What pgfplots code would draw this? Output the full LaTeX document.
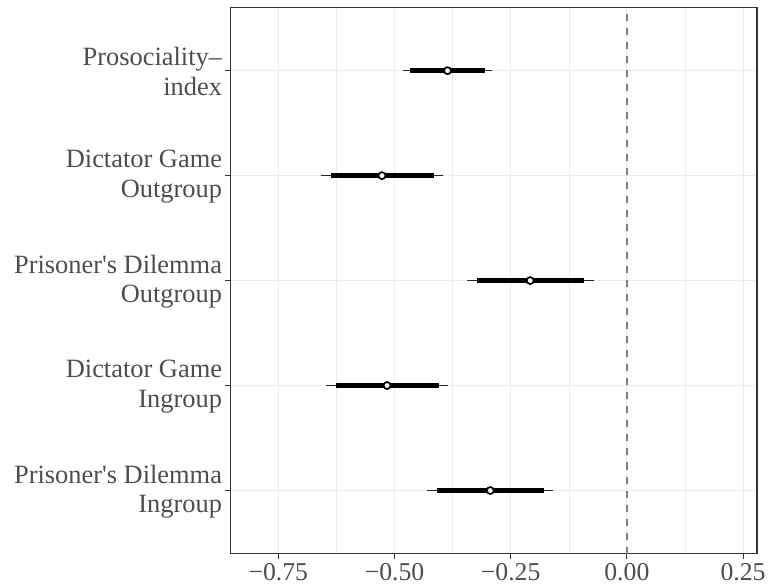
\documentclass[border=0pt]{standalone}
\usepackage{fontspec}
\setmainfont{Liberation Serif}
\usepackage{pgfplots}
\usepackage{pgfplotstable}
\pgfplotsset{compat=1.18}
\definecolor{gridmaj}{RGB}{235,235,235}
\definecolor{frame}{RGB}{51,51,51}
\definecolor{txt}{RGB}{77,77,77}
\definecolor{vline}{RGB}{127,127,127}
% y est lo95 hi95 lo66 hi66
\pgfplotstableread{
y est lo95 hi95 lo66 hi66
1 -0.294 -0.430 -0.158 -0.409 -0.179
2 -0.516 -0.648 -0.384 -0.626 -0.405
3 -0.208 -0.344 -0.070 -0.323 -0.093
4 -0.527 -0.658 -0.395 -0.637 -0.416
5 -0.386 -0.482 -0.290 -0.466 -0.305
}\estimates
\begin{document}
\begin{tikzpicture}
\begin{axis}[
  scale only axis,
  width=526.5bp, height=545.8bp,
  xmin=-0.853, xmax=0.280, ymin=0.4, ymax=5.6,
  xtick={-0.75,-0.5,-0.25,0,0.25},
  xticklabels={−0.75,−0.50,−0.25,0.00,0.25},
  minor xtick={-0.625,-0.375,-0.125,0.125},
  ytick={1,2,3,4,5},
  yticklabels={{Prisoner\textquotesingle s Dilemma\\Ingroup},{Dictator Game\\Ingroup},{Prisoner\textquotesingle s Dilemma\\Outgroup},{Dictator Game\\Outgroup},{Prosociality–\\index}},
  xmajorgrids, xminorgrids, ymajorgrids,
  major grid style={draw=gridmaj, line width=1.07bp},
  minor grid style={draw=gridmaj, line width=0.55bp},
  axis line style={draw=frame, line width=1.2bp},
  tick align=outside,
  major tick length=5.3bp,
  minor tick length=0pt,
  every tick/.style={draw=frame, line width=1.07bp},
  xtick pos=bottom, ytick pos=left,
  xticklabel style={font=\fontsize{25.7bp}{29bp}\selectfont, text=txt, inner sep=0pt, anchor=north, yshift=-4bp},
  yticklabel style={font=\fontsize{26.4bp}{29.5bp}\selectfont, text=txt, inner sep=0pt, anchor=east, align=right, xshift=-3bp, yshift=-1bp},
  clip=false,
]
\coordinate (bl) at (rel axis cs:0,0);
\addplot[draw=vline, line width=1.3bp, dash pattern=on 7bp off 7bp] coordinates {(0,0.4) (0,5.6)};
\addplot[draw=none, forget plot, error bars/.cd, x dir=both, x explicit, error mark=none,
  error bar style={line width=1.4bp, draw=black!85}]
  table[x=est, y=y, x error minus expr=\thisrow{est}-\thisrow{lo95}, x error plus expr=\thisrow{hi95}-\thisrow{est}] {\estimates};
\addplot[draw=none, forget plot, error bars/.cd, x dir=both, x explicit, error mark=none,
  error bar style={line width=4.6bp, draw=black}]
  table[x=est, y=y, x error minus expr=\thisrow{est}-\thisrow{lo66}, x error plus expr=\thisrow{hi66}-\thisrow{est}] {\estimates};
\addplot[only marks, mark=*, mark size=3.5bp, mark options={fill=white, draw=black, line width=1.7bp}]
  table[x=est, y=y] {\estimates};
\end{axis}
\pgfresetboundingbox
\path ([shift={(-230.5bp,-34.5bp)}]bl) rectangle ++(768bp,588bp);
\end{tikzpicture}
\end{document}
